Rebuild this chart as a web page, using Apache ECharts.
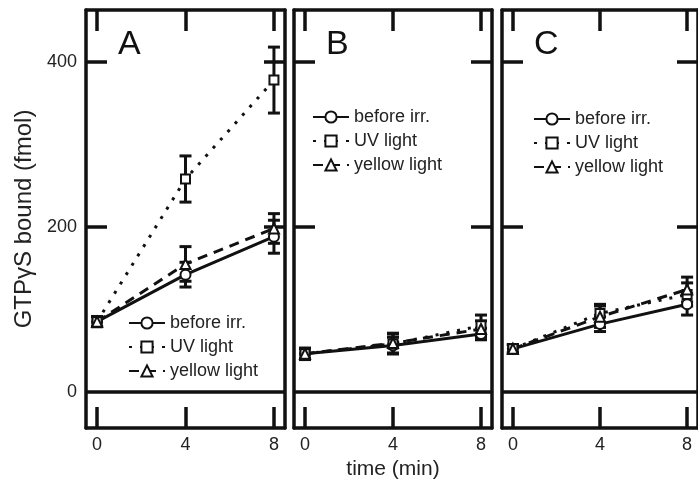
<!DOCTYPE html>
<html>
<head>
<meta charset="utf-8">
<script src="https://cdn.jsdelivr.net/npm/echarts@6/dist/echarts.min.js"></script>
<style>
html, body { margin: 0; padding: 0; background: #fff; }
#chart { width: 698px; height: 488px; }
</style>
</head>
<body>
<div id="chart"></div>
<script>
// data (fmol of GTPyS bound)
var times = [0, 4, 8];
var seriesNames = ['before irr.', 'UV light', 'yellow light'];
var panelLabels = ['A', 'B', 'C'];
var xTicks = [0, 4, 8];
var yTicks = [200, 400];
var yLabels = [0, 200, 400];

// panel A
var aBefore = [85, 142, 188];
var aBeforeErr = [6, 15, 20];
var aUV = [85, 258, 378];
var aUVErr = [6, 28, 40];
var aYellow = [85, 155, 198];
var aYellowErr = [6, 21, 18];

// panel B
var bBefore = [46, 56, 70];
var bBeforeErr = [6, 10, 7];
var bUV = [46, 58, 80];
var bUVErr = [7, 12, 13];
var bYellow = [46, 59, 76];
var bYellowErr = [6, 12, 10];

// panel C
var cBefore = [52, 82, 106];
var cBeforeErr = [5, 9, 13];
var cUV = [52, 95, 118];
var cUVErr = [5, 11, 14];
var cYellow = [52, 91, 124];
var cYellowErr = [5, 13, 15];

var panels = [
    [[aBefore, aBeforeErr], [aUV, aUVErr], [aYellow, aYellowErr]],
    [[bBefore, bBeforeErr], [bUV, bUVErr], [bYellow, bYellowErr]],
    [[cBefore, cBeforeErr], [cUV, cUVErr], [cYellow, cYellowErr]]
];

var font = 'Liberation Sans, Arial, sans-serif';
var ink = '#111';
var marks = [
    {symbol: 'circle', size: 10, dash: 'solid'},
    {symbol: 'rect', size: 9, dash: [3, 8]},
    {symbol: 'triangle', size: 10, dash: [10, 7]}
];
var grids = [
    {left: 86, top: 10, width: 199, height: 418},
    {left: 294, top: 10, width: 198, height: 418},
    {left: 502, top: 10, width: 198, height: 418}
];
var legendPos = [
    {left: 128, top: 314},
    {left: 312, top: 108},
    {left: 533, top: 110}
];

var frameLine = {show: true, onZero: false, lineStyle: {color: ink, width: 3.5}};
var tick = function (vals) {
    return {show: true, inside: true, length: 21, customValues: vals, lineStyle: {color: ink, width: 3.5}};
};

var xAxes = [], yAxes = [], series = [], legends = [], titles = [];

grids.forEach(function (g, p) {
    xAxes.push({
        type: 'value', gridIndex: p, min: -0.5, max: 8.5, position: 'bottom',
        axisLine: frameLine, axisTick: tick(xTicks), splitLine: {show: false},
        axisLabel: {customValues: xTicks, margin: 8, fontSize: 18, color: '#222', fontFamily: font},
        name: p === 1 ? 'time (min)' : '', nameLocation: 'middle', nameGap: 29,
        nameTextStyle: {fontSize: 21, color: '#222', fontFamily: font}
    });
    xAxes.push({
        type: 'value', gridIndex: p, min: -0.5, max: 8.5, position: 'top',
        axisLine: frameLine, axisTick: tick(xTicks), splitLine: {show: false},
        axisLabel: {show: false}
    });
    yAxes.push({
        type: 'value', gridIndex: p, min: -44, max: 463, position: 'left',
        axisLine: frameLine, axisTick: tick(yTicks), splitLine: {show: false},
        axisLabel: {show: p === 0, customValues: yLabels, margin: 9, fontSize: 18, color: '#222', fontFamily: font},
        name: p === 0 ? 'GTPγS bound (fmol)' : '', nameLocation: 'middle', nameGap: 50,
        nameTextStyle: {fontSize: 24, color: '#222', fontFamily: font}
    });
    yAxes.push({
        type: 'value', gridIndex: p, min: -44, max: 463, position: 'right',
        axisLine: frameLine, axisTick: tick(yTicks), splitLine: {show: false},
        axisLabel: {show: false}
    });

    panels[p].forEach(function (d, s) {
        var vals = d[0], errs = d[1];
        series.push({
            type: 'custom', name: seriesNames[s] + ' err', xAxisIndex: p * 2, yAxisIndex: p * 2,
            silent: true, z: 1,
            data: times.map(function (t, i) { return [t, vals[i] - errs[i], vals[i] + errs[i]]; }),
            renderItem: function (params, api) {
                var lo = api.coord([api.value(0), api.value(1)]);
                var hi = api.coord([api.value(0), api.value(2)]);
                var w = 6;
                var st = {stroke: ink, lineWidth: 3};
                return {type: 'group', children: [
                    {type: 'line', shape: {x1: lo[0], y1: lo[1], x2: hi[0], y2: hi[1]}, style: st},
                    {type: 'line', shape: {x1: lo[0] - w, y1: lo[1], x2: lo[0] + w, y2: lo[1]}, style: st},
                    {type: 'line', shape: {x1: hi[0] - w, y1: hi[1], x2: hi[0] + w, y2: hi[1]}, style: st}
                ]};
            }
        });
        var line = {
            type: 'line', name: seriesNames[s], xAxisIndex: p * 2, yAxisIndex: p * 2, z: 2,
            data: times.map(function (t, i) { return [t, vals[i]]; }),
            symbol: marks[s].symbol, symbolSize: marks[s].size, showAllSymbol: true,
            lineStyle: {color: ink, width: 3, type: marks[s].dash},
            itemStyle: {color: '#fff', borderColor: ink, borderWidth: 2}
        };
        if (s === 0) {
            // the zero baseline across the panel
            line.markLine = {
                silent: true, symbol: 'none', label: {show: false},
                lineStyle: {color: ink, width: 3.5, type: 'solid'},
                data: [{yAxis: 0}]
            };
        }
        series.push(line);
    });

    legends.push({
        left: legendPos[p].left, top: legendPos[p].top, orient: 'vertical', padding: 0,
        itemWidth: 36, itemHeight: 14, itemGap: 6, selectedMode: false,
        data: seriesNames,
        textStyle: {fontSize: 18, color: '#222', fontFamily: font}
    });
    titles.push({
        text: panelLabels[p], left: g.left + 27, top: 23,
        textStyle: {fontSize: 34, fontWeight: 'normal', color: ink, fontFamily: font}
    });
});

var myChart = echarts.init(document.getElementById('chart'));
myChart.setOption({
    animation: false,
    backgroundColor: '#fff',
    title: titles,
    legend: legends,
    grid: grids,
    xAxis: xAxes,
    yAxis: yAxes,
    series: series
});
</script>
</body>
</html>
